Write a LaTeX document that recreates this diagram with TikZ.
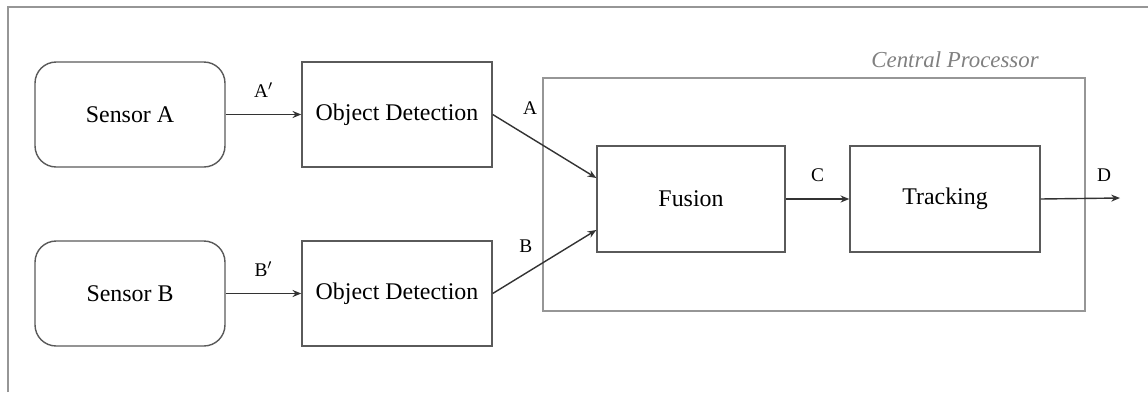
\documentclass[tikz,border=0pt]{standalone}
\usepackage{fontspec}
\setmainfont{Liberation Serif}
\usetikzlibrary{arrows.meta}
\definecolor{boxgray}{RGB}{90,90,90}
\definecolor{framegray}{RGB}{150,150,150}
\tikzset{
    sensor/.style={draw=boxgray, thick, rounded corners=12pt, minimum width=3.8cm, minimum height=2.1cm, font=\fontsize{13.6}{15}\selectfont},
    block/.style={draw=boxgray, thick, minimum width=3.8cm, minimum height=2.1cm, font=\fontsize{13.6}{15}\selectfont},
    flow/.style={->, thick, draw=black!80},
    lbl/.style={font=\fontsize{11}{13}\selectfont}
}
\begin{document}
\begin{tikzpicture}[>={Stealth[length=5pt,width=4pt]}, x=0.02cm, y=-0.02cm]
    \useasboundingbox (0,0) rectangle (1148,392);

    % Outer frame (cut off at right and bottom)
    \draw[framegray, line width=1.2pt] (8,392) -- (8,7) -- (1148,7);

    % Central processor frame
    \draw[framegray, thick] (543,78) rectangle (1085,311);
    \node[font=\fontsize{13}{15}\selectfont\itshape, text=gray] (cp) at (955,60) {Central Processor};

    % Sensors and detectors
    \node[sensor] (sa) at (130,114.5) {Sensor A};
    \node[sensor] (sb) at (130,293.5) {Sensor B};
    \node[block] (oda) at (397,114.5) {Object Detection};
    \node[block] (odb) at (397,293.5) {Object Detection};

    % Processing stages
    \node[block, minimum width=3.76cm, minimum height=2.12cm] (fus) at (691,199) {Fusion};
    \node[block, minimum width=3.8cm, minimum height=2.12cm] (trk) at (945,199) {Tracking};
    \coordinate (out) at (1120,198);

    % Connections
    \draw[flow] (sa) -- (oda) node[lbl, midway, above=6pt] {A$^{\prime}$};
    \draw[flow] (sb) -- (odb) node[lbl, midway, above=6pt] {B$^{\prime}$};
    \draw[flow] (oda.east) -- ([yshift=0.42cm]fus.west) node[lbl, pos=0.36, above=9pt] {A};
    \draw[flow] (odb.east) -- ([yshift=-0.62cm]fus.west) node[lbl, pos=0.32, above=8pt] {B};
    \draw[flow] (fus) -- (trk) node[lbl, midway, above=6pt] {C};
    \draw[flow] (trk.east) -- (out) node[lbl, pos=0.8, above=6pt] {D};
\end{tikzpicture}
\end{document}
